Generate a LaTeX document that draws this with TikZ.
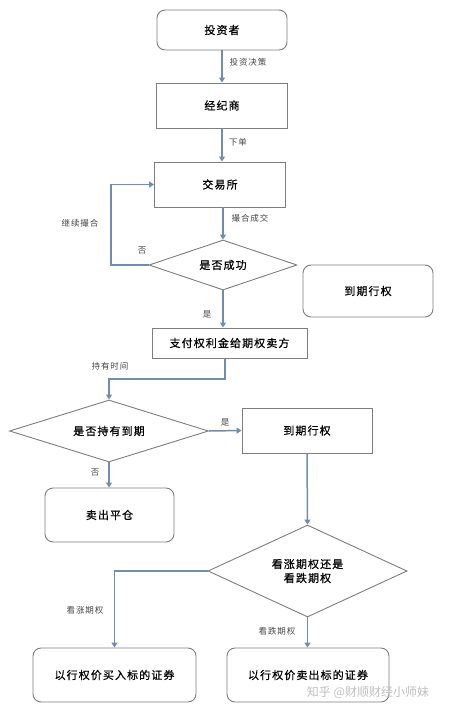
\documentclass[tikz,border=0pt]{standalone}
\usepackage{fontspec}
\newfontfamily\cjk[LetterSpace=10,FakeBold=0.6]{Noto Sans CJK SC}
\newfontfamily\cjklbl[LetterSpace=10]{Noto Sans CJK SC}
\newfontfamily\cjkmark{Noto Sans CJK SC}
\usetikzlibrary{arrows.meta,shapes.geometric}
\definecolor{boxgray}{RGB}{125,125,125}
\definecolor{flowblue}{RGB}{112,142,172}
\definecolor{labelgray}{RGB}{70,70,70}

\begin{document}
\begin{tikzpicture}[x=1pt,y=-1pt,
  procbox/.style={draw=boxgray,line width=0.9pt,inner sep=0pt,
    font=\cjk\fontsize{11}{14}\selectfont},
  roundbox/.style={procbox,rounded corners=8pt},
  decide/.style={procbox,diamond,aspect=2,align=center},
  flow/.style={draw=flowblue,line width=1.5pt,-{Triangle[width=6pt,length=5pt]}},
  lbl/.style={text=labelgray,inner sep=0pt,font=\cjklbl\fontsize{8.5}{10}\selectfont}]
  \useasboundingbox (0,0) rectangle (448,711);

  % top chain
  \node[roundbox,minimum width=130pt,minimum height=40pt] (investor) at (222,30) {投资者};
  \node[procbox,minimum width=131pt,minimum height=45pt] (broker) at (222,105.5) {经纪商};
  \node[procbox,minimum width=131pt,minimum height=45pt] (exchange) at (220,184.5) {交易所};
  \node[decide,minimum width=148pt,minimum height=50pt] (success) at (223,265) {是否成功};
  \node[roundbox,minimum width=130pt,minimum height=52pt] (expiry) at (368,291) {到期行权};
  \node[procbox,minimum width=155pt,minimum height=30pt] (premium) at (229.5,343) {支付权利金给期权卖方};

  % holding branch
  \node[decide,minimum width=199pt,minimum height=62pt] (hold) at (109,431) {是否持有到期};
  \node[procbox,minimum width=130pt,minimum height=45pt] (exercise) at (307,430.5) {到期行权};
  \node[roundbox,minimum width=129pt,minimum height=54pt] (close) at (109.5,515) {卖出平仓};
  \node[decide,minimum width=199pt,minimum height=92pt] (kind) at (307.5,571) {看涨期权还是\\看跌期权};
  \node[roundbox,minimum width=163pt,minimum height=54pt] (buysec) at (114.5,675) {以行权价买入标的证券};
  \node[roundbox,minimum width=162pt,minimum height=54pt] (sellsec) at (308,675) {以行权价卖出标的证券};

  \coordinate (retry) at (111,265);
  \coordinate (holdturn) at (225,379);

  \draw[flow] (investor.south) -- (broker.north);
  \draw[flow] (broker.south) -- (broker.south |- exchange.north);
  \draw[flow] (exchange.south -| success.north) -- (success.north);
  \draw[flow] (success.west) -- (retry) |- (exchange.west);
  \draw[flow] (success.south) -- (success.south |- premium.north);
  \draw[flow] (premium.south -| holdturn) -- (holdturn) -| (hold.north);
  \draw[flow] (hold.east) -- (exercise.west);
  \draw[flow] (hold.south) -- (hold.south |- close.north);
  \draw[flow] (exercise.south) -- (kind.north);
  \draw[flow] (kind.west) -| (buysec.north);
  \draw[flow] (kind.south) -- (kind.south |- sellsec.north);

  \node[lbl] at (248,62) {投资决策};
  \node[lbl] at (238,142) {下单};
  \node[lbl] at (250,218) {撮合成交};
  \node[lbl] at (80,223) {继续撮合};
  \node[lbl] at (142,251) {否};
  \node[lbl] at (207,314) {是};
  \node[lbl] at (110,366) {持有时间};
  \node[lbl] at (225,422) {是};
  \node[lbl] at (95,473) {否};
  \node[lbl] at (85,610) {看涨期权};
  \node[lbl] at (277,631) {看跌期权};

  \node[text=black!25,font=\cjkmark\fontsize{12}{14}\selectfont] at (368,692) {知乎 @财顺财经小师妹};
\end{tikzpicture}
\end{document}
